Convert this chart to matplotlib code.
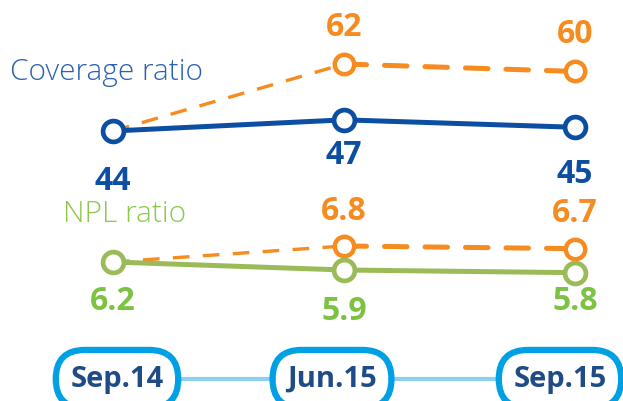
import matplotlib.pyplot as plt

# ==================== DATA ====================
periods = ["Sep.14", "Jun.15", "Sep.15"]
coverage = [44, 47, 45]
coverage_peer = [62, 60]          # orange series, Jun.15 and Sep.15
npl = [6.2, 5.9, 5.8]
npl_peer = [6.8, 6.7]

# ==================== STYLE ====================
BLUE = "#0b4ea2"
ORANGE = "#f68b1f"
GREEN_LINE = "#9bbb59"
GREEN_TXT = "#7dc242"
BOX_EDGE = "#00a1e4"
BOX_TXT = "#1f4b86"
LINK = "#8ccff0"
FONT = ["Open Sans", "DejaVu Sans"]

W, H = 623, 401
X0, DX = 113, 231          # pixel x of first category, spacing
XLIM = (-X0 / DX, (W - X0) / DX)
PX = 0.72                  # points per pixel at dpi 100
BOX_X = [117, 332, 560]    # pixel centres of the date boxes

fig = plt.figure(figsize=(W / 100, H / 100), dpi=100)


def panel(y_top, y_bot, ylim, xlim=XLIM):
    ax = fig.add_axes([0, 1 - y_bot / H, 1, (y_bot - y_top) / H])
    ax.set_xlim(*xlim)
    ax.set_ylim(*ylim)
    ax.axis("off")
    return ax


def draw_pair(ax, main, peer, main_col, lab_col, main_off, peer_off):
    xs = list(range(len(main)))
    # first dashed segment starts from the main series' first point, thinner
    ax.plot(xs[:2], [main[0], peer[0]], color=ORANGE, lw=2.4,
            ls=(0, (5, 4)), zorder=3)
    ax.plot(xs[1:], peer, color=ORANGE, lw=3.6, ls=(0, (4.5, 3.6)),
            dash_capstyle="round", zorder=3)
    ax.plot(xs[1:], peer, ls="none", marker="o", ms=14, mfc="white",
            mec=ORANGE, mew=3.2, zorder=3)
    ax.plot(xs, main, color=main_col, lw=3.6, marker="o", ms=15,
            mfc="white", mec=main_col, mew=3.4, zorder=4)
    for x, v, off in zip(xs, main, main_off):
        ax.annotate(f"{v:g}", (x, v), xytext=(0, -off * PX),
                    textcoords="offset points", ha="center", va="center",
                    fontsize=23, fontweight="bold", color=lab_col, family=FONT)
    for x, v, off in zip(xs[1:], peer, peer_off):
        ax.annotate(f"{v:g}", (x, v), xytext=(0, off * PX),
                    textcoords="offset points", ha="center", va="center",
                    fontsize=23, fontweight="bold", color=ORANGE, family=FONT)


# top panel: coverage ratio, 44 -> y=131px, 62 -> y=64px
k = 67 / 18
ax_top = panel(0, 200, (44 - (200 - 131) / k, 44 + 131 / k))
draw_pair(ax_top, coverage, coverage_peer, BLUE, BLUE,
          [51, 36, 47], [37, 37])

# bottom panel: NPL ratio, 6.2 -> y=262px, 6.8 -> y=246px
k = 16 / 0.6
ax_bot = panel(190, 330, (6.2 - (330 - 262) / k, 6.2 + (262 - 190) / k))
draw_pair(ax_bot, npl, npl_peer, GREEN_LINE, GREEN_TXT,
          [39, 41, 29], [35, 35])

fig.text(10 / W, 1 - 72 / H, "Coverage ratio", ha="left", va="center",
         fontsize=21.5, fontweight="light", color="#2a62b0", family=FONT)
fig.text(63 / W, 1 - 214 / H, "NPL ratio", ha="left", va="center",
         fontsize=21.5, fontweight="light", color="#8cc84b", family=FONT)

# date boxes
ax_d = panel(330, 401, (0, 1), xlim=(0, W))
yc = 1 - (379 - 330) / 71
ax_d.plot(BOX_X, [yc] * len(BOX_X), color=LINK, lw=3, zorder=1)
for x, lab in zip(BOX_X, periods):
    ax_d.text(x, yc, lab, ha="center", va="center", fontsize=21,
              fontweight="bold", color=BOX_TXT, family=FONT, zorder=3,
              bbox=dict(boxstyle="round,pad=0.5,rounding_size=1.0",
                        fc="white", ec=BOX_EDGE, lw=4.5))

fig.savefig("out.png", dpi=100)
